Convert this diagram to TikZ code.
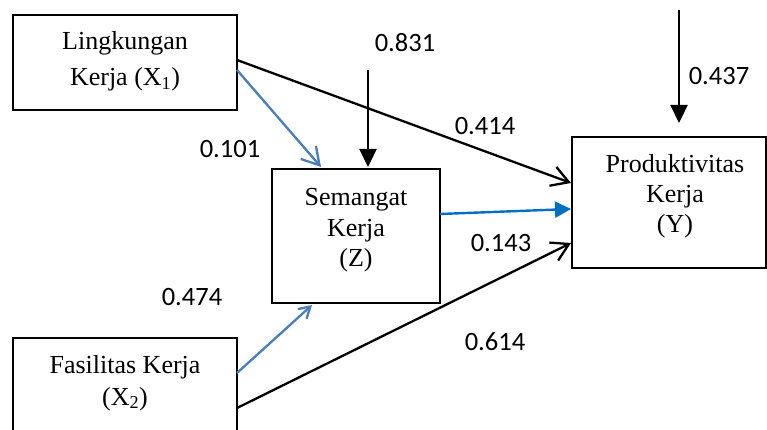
\documentclass[tikz,border=0pt]{standalone}
\usepackage{fontspec}
\setmainfont{Liberation Serif}
\newfontfamily\labelfont{Carlito}
\usetikzlibrary{arrows.meta,calc}
\definecolor{pathblue}{HTML}{4A7EBB}
\definecolor{mainblue}{HTML}{0070C0}

\begin{document}
\begin{tikzpicture}[x=1pt,y=-1pt,
  box/.style={draw=black, line width=1.5pt, inner sep=0pt, outer sep=0pt},
  boxtext/.style={anchor=base, inner sep=0pt, font=\fontsize{26}{31}\selectfont},
  coef/.style={inner sep=0pt, font=\labelfont\fontsize{26.5}{31}\selectfont},
  conn/.style={line width=2.3pt, -{Straight Barb[length=17pt,width=20pt,line width=2.3pt]}},
  bconn/.style={conn, draw=pathblue},
  smallhead/.style={-{Straight Barb[length=11pt,width=13pt,line width=2.3pt]}},
  zconn/.style={line width=2.4pt, draw=mainblue, -{Triangle[length=16pt,width=16pt]}},
  errconn/.style={line width=2.3pt, -{Triangle[length=18pt,width=17pt]}}]
  \clip (0,0) rectangle (767,430);

  % construct boxes
  \node[box, minimum width=224, minimum height=95] (x1) at (125,62.5) {};
  \node[box, minimum width=224, minimum height=102] (x2) at (125,389) {};
  \node[box, minimum width=168, minimum height=134] (z) at (356,236) {};
  \node[box, minimum width=194, minimum height=131] (y) at (669,202.5) {};

  % box captions
  \node[boxtext] (x1a) at (125,50) {Lingkungan};
  \node[boxtext] (x1b) at (125,86) {Kerja (X\textsubscript{1})};
  \node[boxtext] (x2a) at (125,373) {Fasilitas Kerja};
  \node[boxtext] (x2b) at (125,405) {(X\textsubscript{2})};
  \node[boxtext] (za) at (356,205) {Semangat};
  \node[boxtext] (zb) at (356,236) {Kerja};
  \node[boxtext] (zc) at (356,266) {(Z)};
  \node[boxtext] (ya) at (675,173) {Produktivitas};
  \node[boxtext] (yb) at (675,203) {Kerja};
  \node[boxtext] (yc) at (675,233) {(Y)};

  % error terms
  \coordinate (ez) at (368,70);
  \coordinate (ey) at (679,10);
  \draw[errconn] (ez) -- ($(z.north)+(12,-2)$);
  \draw[errconn] (ey) -- ($(y.north)+(10,-14)$);

  % paths
  \draw[conn] ($(x1.east)+(0,-2.5)$) -- ($(y.west)+(-1,-19.5)$);
  \draw[bconn] ($(x1.east)+(0,7.5)$) -- ($(z.north)+(-35,-2)$);
  \draw[zconn] ($(z.east)+(0,-22)$) -- ($(y.west)+(-1,6.5)$);
  \draw[conn] ($(x2.east)+(0,19)$) -- ($(y.west)+(-1,40.5)$);
  \draw[bconn, smallhead] ($(x2.east)+(0,-16)$) -- ($(z.south)+(-44,2)$);

  % coefficients
  \node[coef] (c831) at (405,43) {0.831};
  \node[coef] (c437) at (719,76) {0.437};
  \node[coef] (c414) at (485,126) {0.414};
  \node[coef] (c101) at (230,149) {0.101};
  \node[coef] (c143) at (501,243) {0.143};
  \node[coef] (c474) at (192,297) {0.474};
  \node[coef] (c614) at (495,342) {0.614};
\end{tikzpicture}
\end{document}
